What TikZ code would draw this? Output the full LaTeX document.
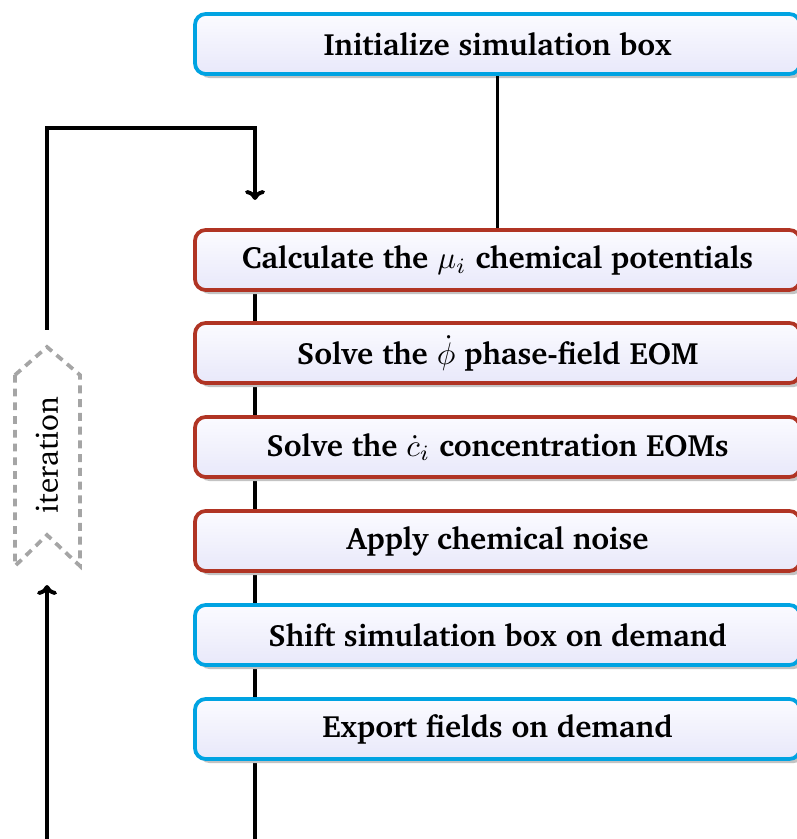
\documentclass[tikz,border=0pt]{standalone}
\IfFileExists{XCharter.sty}{\usepackage[T1]{fontenc}\usepackage{XCharter}}{%
  \IfFileExists{charter.sty}{\usepackage[T1]{fontenc}\usepackage{charter}}{%
    \usepackage{fontspec}\setmainfont{Liberation Serif}}}
\usetikzlibrary{arrows.meta,shadows,backgrounds}
\definecolor{boxblue}{RGB}{0,163,226}
\definecolor{boxred}{RGB}{176,52,36}
\definecolor{filltop}{RGB}{251,251,255}
\definecolor{fillbot}{RGB}{232,232,250}
\definecolor{shadowgray}{RGB}{195,195,195}
\definecolor{itergray}{RGB}{165,165,165}
\tikzset{
  stepbox/.style={rectangle, rounded corners=3.4pt, line width=1.2pt,
    minimum width=193.6pt, minimum height=19.2pt, inner sep=0pt,
    top color=filltop, bottom color=fillbot,
    font=\fontsize{9.85}{12}\selectfont\bfseries,
    drop shadow={shadow xshift=1.3pt, shadow yshift=-1.3pt, fill=shadowgray, opacity=1}},
  bluebox/.style={stepbox, draw=boxblue},
  redbox/.style={stepbox, draw=boxred},
  flow/.style={line width=1.25pt, draw=black},
  flowarrow/.style={flow, -{To[width=6.4pt,length=3.2pt,line width=1.25pt]}},
  iterline/.style={draw=itergray, line width=1.2pt, dash pattern=on 2.5pt off 1.9pt}
}
\begin{document}
\begin{tikzpicture}[x=0.32pt, y=-0.32pt]
\useasboundingbox (0,0) rectangle (797,839);
\node[bluebox] (init) at (497.5,44) {Initialize simulation box};
\node[redbox] (calc) at (497.5,260) {Calculate the $\mu_i$ chemical potentials};
\node[redbox] (phi) at (497.5,353) {Solve the $\dot{\phi}$ phase-field EOM};
\node[redbox] (conc) at (497.5,447) {Solve the $\dot{c}_i$ concentration EOMs};
\node[redbox] (noise) at (497.5,541) {Apply chemical noise};
\node[bluebox] (shift) at (497.5,635) {Shift simulation box on demand};
\node[bluebox] (export) at (497.5,729) {Export fields on demand};
\node[rotate=90, font=\fontsize{10}{12}\selectfont, inner sep=0pt] (iter) at (47,455) {iteration};
\coordinate (bottomR) at (255,839);
\coordinate (bottomL) at (47,839);
\coordinate (ibot) at (47,585);
\coordinate (itop) at (47,330);
\coordinate (corner) at (47,128);
\coordinate (ret) at (255,200);
\begin{scope}[on background layer]
\draw[flow] (calc.south -| bottomR) -- (bottomR);
\end{scope}
\draw[flow] (init.south) -- (calc.north);
\draw[flowarrow] (bottomL) -- (ibot);
\draw[flowarrow] (itop) -- (corner) -| (ret);
\draw[iterline] ([shift={(-32,-80)}]iter.center) -- ([shift={(0,-108)}]iter.center) -- ([shift={(33,-80)}]iter.center)
  -- ([shift={(33,111)}]iter.center) -- ([shift={(0,80)}]iter.center) -- ([shift={(-32,111)}]iter.center) -- cycle;
\end{tikzpicture}
\end{document}
